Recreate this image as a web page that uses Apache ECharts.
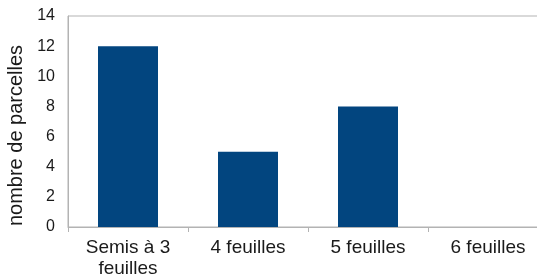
<!DOCTYPE html>
<html>
<head>
<meta charset="utf-8">
<script src="https://cdn.jsdelivr.net/npm/echarts@6/dist/echarts.min.js"></script>
<style>
  html, body { margin: 0; padding: 0; background: #fff; }
  #chart { width: 537px; height: 279px; }
</style>
</head>
<body>
<div id="chart"></div>
<script>
const categories = ["Semis à 3\nfeuilles", "4 feuilles", "5 feuilles", "6 feuilles"];
const parcelles = [12, 5, 8, 0];
const yTicks = {min: 0, max: 14, interval: 2};

const chart = echarts.init(document.getElementById("chart"));

const axisColor = "#b3b3b3";
const font = "Liberation Sans, Arial, sans-serif";

const option = {
  animation: false,
  grid: {
    left: 68,
    top: 16,
    bottom: 52,
    right: -11,
    outerBoundsMode: "none",
    show: true,
    borderColor: axisColor,
    borderWidth: 1,
  },
  xAxis: {
    type: "category",
    data: categories,
    axisLine: {lineStyle: {color: axisColor}},
    axisTick: {show: true, length: 5, lineStyle: {color: axisColor}},
    axisLabel: {
      color: "#1a1a1a",
      fontFamily: font,
      fontSize: 19,
      margin: 10,
      lineHeight: 21,
      interval: 0,
    },
  },
  yAxis: {
    type: "value",
    min: yTicks.min,
    max: yTicks.max,
    interval: yTicks.interval,
    name: "nombre de parcelles",
    nameLocation: "middle",
    nameGap: 33,
    nameTextStyle: {color: "#1a1a1a", fontFamily: font, fontSize: 20, padding: [0, 28, 0, 0]},
    axisLine: {show: true, lineStyle: {color: axisColor}},
    axisTick: {show: false},
    splitLine: {show: false},
    axisLabel: {color: "#1a1a1a", fontFamily: font, fontSize: 16, margin: 13},
  },
  series: [{
    type: "bar",
    data: parcelles,
    barWidth: "50%",
    itemStyle: {color: "#02457f"},
  }],
};

chart.setOption(option);
</script>
</body>
</html>
